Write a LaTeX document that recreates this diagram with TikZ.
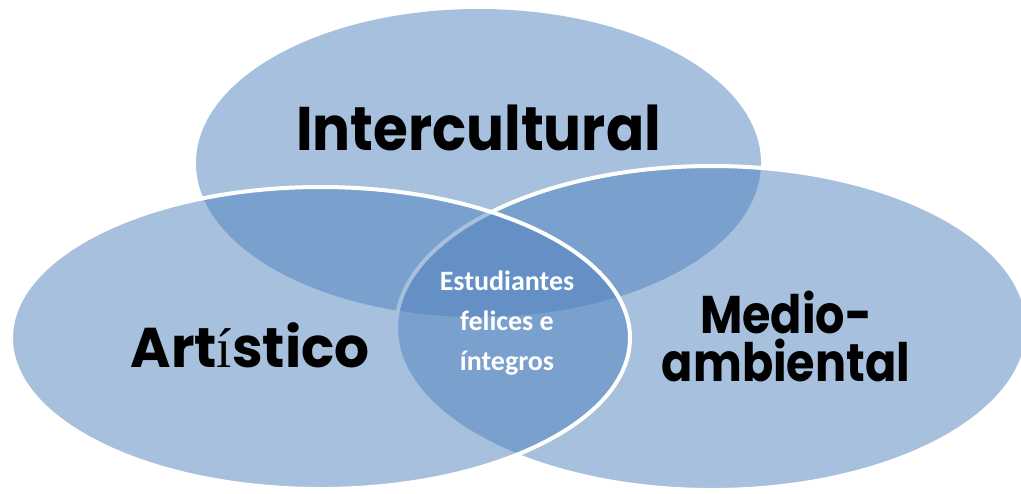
\documentclass[tikz,border=0pt]{standalone}
\usepackage{fontspec}
\usepackage{xcolor}
\newfontfamily\rotulofont{Poppins}
\newfontfamily\cuerpofont{Carlito}
\newfontfamily\acentofont{Liberation Serif}
\definecolor{azulvenn}{HTML}{4F81BD}

\begin{document}
\begin{tikzpicture}[x=0.5pt,y=-0.5pt,
  conjunto/.style={fill=azulvenn,fill opacity=0.5},
  borde/.style={draw=white,line width=2pt},
  rotulo/.style={font=\rotulofont\bfseries,text=black,inner sep=0pt},
  centro/.style={font=\cuerpofont\bfseries\fontsize{14}{20}\selectfont,text=white,align=center,inner sep=0pt}]
\clip (0,0) rectangle (1021,493);

% Conjunto superior
\fill[conjunto] (478.5,163) ellipse [x radius=282.5, y radius=154];

% Conjunto derecho
\draw[conjunto,borde] (712,328) ellipse [x radius=316, y radius=162];

% Conjunto izquierdo
\draw[conjunto,borde] (320.5,338) ellipse [x radius=309.5, y radius=151];

% Rotulos
\node[rotulo,anchor=base,font=\rotulofont\bfseries\fontsize{30.8}{36}\selectfont] (inter) at (478.5,150) {\scalebox{0.915}[1]{Intercultural}};
\node[rotulo,anchor=base,font=\rotulofont\bfseries\fontsize{28}{32}\selectfont] (arte) at (250,367) {\scalebox{0.98}[1]{Art{\acentofont\mdseries í}stico}};
\node[rotulo,align=center,font=\rotulofont\bfseries\fontsize{26.5}{24}\selectfont] (medio) at (786,336) {\scalebox{0.87}[1]{Medio-}\\\scalebox{0.87}[1]{ambiental}};

% Interseccion central
\node[centro] (estud) at (507,323.5) {Estudiantes\\felices e\\íntegros};
\end{tikzpicture}
\end{document}
